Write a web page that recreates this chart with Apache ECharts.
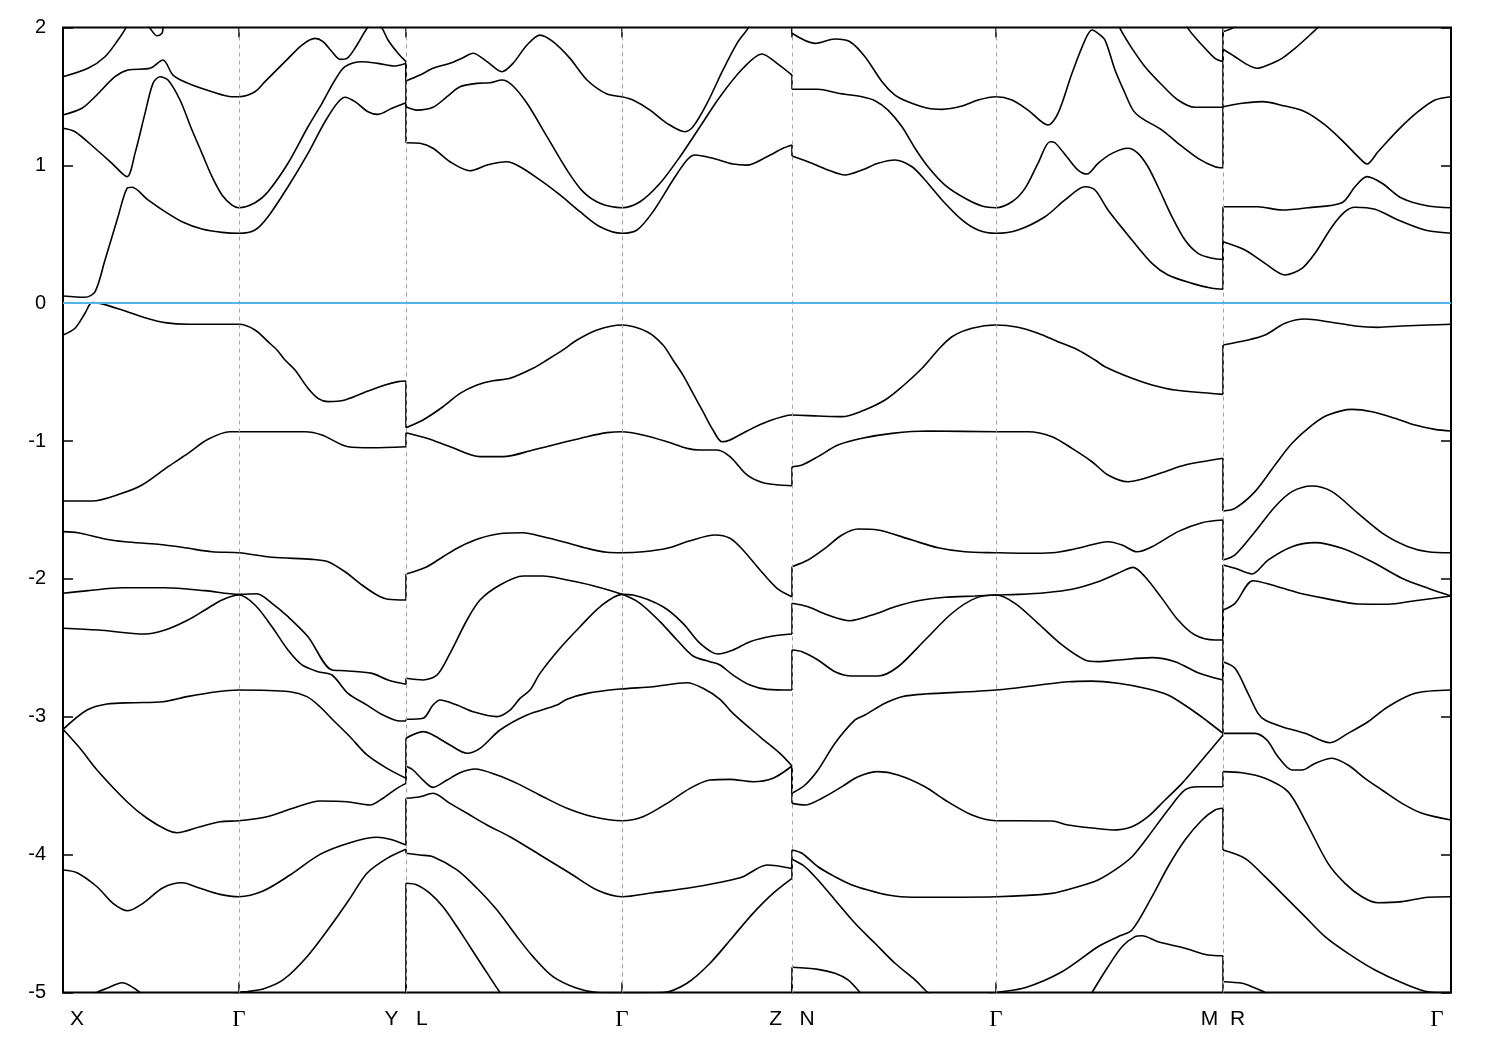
<!DOCTYPE html>
<html>
<head>
<meta charset="utf-8">
<script src="https://cdn.jsdelivr.net/npm/echarts@6/dist/echarts.min.js"></script>
<style>
html,body{margin:0;padding:0;background:#fff;}
#chart{width:1500px;height:1050px;}
</style>
</head>
<body>
<div id="chart"></div>
<script>
// k-path positions of the high-symmetry points and their labels
const kNodes = [0, 176, 343, 559, 729, 933, 1160, 1388];
const kLabelPos = [14, 176, 343, 559, 729, 933, 1160, 1374];
const kLabels = ['X', 'Γ', 'Y   L', 'Γ', 'Z   N', 'Γ', 'M  R', 'Γ'];
const yTicks = [-5, -4, -3, -2, -1, 0, 1, 2];

// bands: [k, E (eV)]
const bandT0 = [[0,1.643],[25,1.704],[42,1.788],[55,1.909],[62,1.987],[67,2.06]];
const bandDip = [[82,2.05],[87,1.995],[94,1.94],[99,1.958],[100,1.995],[102,2.05]];
const bandT1 = [[0,1.365],[19,1.414],[32,1.498],[52,1.643],[65,1.692],[87,1.704],[100,1.764],[110,1.655],[125,1.595],[149,1.534],[169,1.498],[176,1.498],[192,1.534],[202,1.607],[222,1.752],[239,1.873],[252,1.921],[260,1.897],[269,1.824],[277,1.769],[284,1.776],[294,1.873],[305,2.006],[311,2.04],[319,1.994],[325,1.909],[335,1.813],[343,1.752],
[343,1.612],[357,1.655],[370,1.704],[387,1.740],[400,1.781],[410,1.813],[424,1.752],[439,1.679],[450,1.740],[464,1.873],[477,1.945],[490,1.897],[507,1.776],[524,1.619],[544,1.517],[559,1.498],[570,1.474],[587,1.401],[604,1.305],[622,1.244],[630,1.280],[644,1.450],[660,1.692],[674,1.885],[685,1.994],[697,2.14],[729,2.35],
[729,1.958],[752,1.885],[772,1.917],[787,1.897],[802,1.788],[819,1.607],[832,1.510],[845,1.462],[865,1.414],[879,1.406],[899,1.430],[915,1.474],[933,1.498],[949,1.474],[965,1.401],[985,1.293],[995,1.377],[1009,1.668],[1022,1.909],[1029,1.982],[1035,1.958],[1042,1.909],[1052,1.692],[1062,1.523],[1070,1.401],[1079,1.341],[1099,1.256],[1115,1.160],[1135,1.051],[1152,0.990],[1160,0.983],
[1160,1.425],[1179,1.450],[1199,1.462],[1222,1.430],[1242,1.389],[1262,1.293],[1282,1.160],[1295,1.063],[1304,1.010],[1315,1.099],[1335,1.256],[1355,1.389],[1372,1.474],[1388,1.498]];
const bandT2 = [[0,1.269],[12,1.244],[32,1.124],[49,1.015],[64,0.918],[72,1.087],[82,1.377],[90,1.595],[97,1.643],[105,1.619],[117,1.474],[129,1.256],[139,1.087],[149,0.918],[159,0.785],[169,0.712],[176,0.693],[192,0.729],[205,0.809],[225,1.015],[245,1.280],[259,1.450],[272,1.619],[282,1.716],[299,1.752],[315,1.740],[332,1.721],[343,1.740],
[343,1.425],[354,1.401],[370,1.421],[384,1.498],[397,1.570],[414,1.595],[427,1.599],[439,1.619],[449,1.583],[464,1.450],[484,1.208],[504,0.966],[520,0.809],[537,0.725],[559,0.693],[577,0.736],[597,0.870],[617,1.063],[637,1.280],[657,1.498],[680,1.704],[699,1.808],[714,1.740],[729,1.655],
[729,1.552],[755,1.552],[775,1.523],[799,1.498],[812,1.469],[825,1.401],[839,1.280],[852,1.124],[865,0.990],[882,0.857],[902,0.761],[919,0.705],[933,0.693],[949,0.736],[962,0.833],[975,1.015],[987,1.171],[992,1.164],[1005,1.051],[1015,0.966],[1024,0.937],[1035,1.015],[1049,1.087],[1065,1.124],[1075,1.087],[1085,0.990],[1095,0.845],[1109,0.627],[1122,0.458],[1135,0.362],[1149,0.326],[1160,0.318],
[1160,0.700],[1195,0.700],[1219,0.676],[1245,0.693],[1279,0.729],[1292,0.845],[1304,0.918],[1319,0.870],[1339,0.761],[1365,0.705],[1388,0.693]];
const bandT3 = [[0,0.052],[22,0.043],[32,0.083],[42,0.313],[55,0.627],[64,0.833],[69,0.841],[85,0.749],[102,0.664],[119,0.591],[139,0.538],[159,0.514],[176,0.507],[192,0.531],[205,0.627],[225,0.845],[245,1.087],[265,1.353],[282,1.494],[292,1.462],[305,1.389],[315,1.370],[329,1.414],[343,1.454],
[343,1.164],[357,1.160],[370,1.124],[387,1.026],[407,0.961],[424,1.002],[444,1.026],[457,0.990],[477,0.894],[497,0.785],[517,0.664],[537,0.555],[559,0.507],[574,0.531],[590,0.664],[610,0.894],[624,1.039],[632,1.075],[650,1.051],[670,1.010],[684,1.002],[704,1.063],[720,1.124],[729,1.148],
[729,1.068],[749,1.015],[765,0.966],[782,0.930],[799,0.966],[815,1.015],[832,1.039],[849,0.990],[862,0.894],[879,0.749],[899,0.604],[915,0.531],[933,0.507],[955,0.531],[982,0.627],[1002,0.749],[1022,0.845],[1032,0.821],[1045,0.676],[1069,0.458],[1089,0.289],[1105,0.205],[1129,0.144],[1149,0.108],[1160,0.101],
[1160,0.446],[1182,0.386],[1202,0.289],[1222,0.205],[1239,0.253],[1252,0.362],[1269,0.555],[1282,0.664],[1292,0.696],[1312,0.681],[1335,0.604],[1362,0.531],[1388,0.507]];
const bandT4 = [[1052,2.09],[1057,1.994],[1069,1.849],[1082,1.716],[1099,1.583],[1115,1.474],[1132,1.421],[1160,1.421],[1160,1.842],[1172,1.788],[1182,1.740],[1194,1.704],[1205,1.728],[1219,1.776],[1232,1.849],[1245,1.933],[1254,1.994],[1262,2.07]];
const bandT5 = [[1120,2.09],[1125,1.994],[1139,1.873],[1152,1.776],[1160,1.752],[1160,1.969],[1172,2.006],[1182,2.09]];

const bandV1 = [[0,-0.231],[12,-0.182],[22,-0.073],[29,0.004],[37,-0.001],[59,-0.049],[82,-0.105],[102,-0.141],[125,-0.153],[176,-0.153],[192,-0.194],[205,-0.279],[214,-0.339],[222,-0.412],[232,-0.485],[245,-0.617],[255,-0.690],[265,-0.714],[282,-0.702],[305,-0.637],[322,-0.593],[335,-0.569],[343,-0.564],
[343,-0.903],[360,-0.847],[380,-0.751],[397,-0.654],[414,-0.593],[430,-0.562],[447,-0.545],[470,-0.472],[484,-0.412],[500,-0.339],[514,-0.267],[534,-0.194],[559,-0.158],[584,-0.207],[600,-0.303],[610,-0.412],[620,-0.521],[630,-0.654],[640,-0.787],[650,-0.920],[659,-1.005],[667,-0.992],[684,-0.927],[704,-0.860],[729,-0.811],
[755,-0.818],[779,-0.823],[799,-0.782],[822,-0.702],[839,-0.606],[859,-0.472],[875,-0.339],[889,-0.243],[909,-0.182],[933,-0.158],[955,-0.175],[975,-0.218],[995,-0.279],[1015,-0.339],[1032,-0.412],[1042,-0.461],[1069,-0.545],[1089,-0.593],[1112,-0.630],[1160,-0.661],
[1160,-0.303],[1185,-0.267],[1202,-0.231],[1222,-0.146],[1242,-0.115],[1265,-0.134],[1292,-0.165],[1315,-0.175],[1339,-0.165],[1365,-0.158],[1388,-0.153]];
const bandV2 = [[0,-1.435],[29,-1.435],[59,-1.379],[79,-1.319],[105,-1.186],[125,-1.089],[145,-0.987],[167,-0.932],[176,-0.932],[242,-0.932],[259,-0.956],[285,-1.041],[309,-1.048],[343,-1.041],
[343,-0.939],[364,-0.980],[387,-1.041],[417,-1.113],[440,-1.113],[470,-1.065],[497,-1.016],[524,-0.968],[544,-0.939],[559,-0.932],[580,-0.956],[604,-1.005],[624,-1.053],[637,-1.065],[654,-1.065],[667,-1.113],[684,-1.246],[700,-1.302],[717,-1.319],[729,-1.324],
[729,-1.186],[739,-1.174],[755,-1.113],[775,-1.029],[799,-0.980],[829,-0.944],[865,-0.927],[933,-0.932],[965,-0.932],[989,-0.968],[1009,-1.053],[1029,-1.150],[1045,-1.246],[1065,-1.295],[1082,-1.270],[1102,-1.222],[1122,-1.174],[1160,-1.125],
[1160,-1.507],[1172,-1.488],[1192,-1.367],[1212,-1.174],[1229,-1.016],[1249,-0.884],[1265,-0.811],[1289,-0.770],[1309,-0.787],[1332,-0.835],[1352,-0.884],[1372,-0.915],[1388,-0.927]];
const bandV3 = [[0,-1.657],[15,-1.665],[42,-1.710],[62,-1.730],[95,-1.749],[122,-1.774],[149,-1.803],[176,-1.810],[209,-1.843],[249,-1.858],[265,-1.875],[282,-1.948],[299,-2.044],[314,-2.117],[325,-2.148],[343,-2.153],
[343,-1.964],[364,-1.911],[380,-1.839],[397,-1.766],[417,-1.705],[440,-1.669],[460,-1.665],[480,-1.694],[500,-1.730],[524,-1.778],[544,-1.807],[559,-1.810],[580,-1.803],[604,-1.778],[627,-1.723],[652,-1.681],[667,-1.705],[680,-1.790],[697,-1.935],[714,-2.068],[729,-2.129],
[729,-1.911],[745,-1.863],[762,-1.778],[779,-1.681],[795,-1.638],[815,-1.645],[849,-1.718],[875,-1.774],[902,-1.803],[933,-1.810],[962,-1.814],[989,-1.810],[1015,-1.778],[1045,-1.730],[1059,-1.754],[1074,-1.803],[1089,-1.766],[1115,-1.657],[1139,-1.592],[1160,-1.573],
[1160,-1.863],[1172,-1.826],[1192,-1.657],[1212,-1.476],[1229,-1.367],[1249,-1.326],[1269,-1.367],[1295,-1.524],[1322,-1.681],[1345,-1.766],[1365,-1.803],[1388,-1.810]];
const bandV4 = [[0,-2.104],[25,-2.085],[59,-2.064],[102,-2.064],[142,-2.085],[176,-2.112],[194,-2.107],[209,-2.177],[225,-2.274],[245,-2.419],[269,-2.661],[282,-2.666],[309,-2.685],[325,-2.733],[343,-2.764],
[343,-2.721],[360,-2.733],[374,-2.697],[387,-2.540],[404,-2.298],[417,-2.153],[437,-2.044],[460,-1.979],[480,-1.979],[504,-2.008],[530,-2.049],[559,-2.112],[577,-2.177],[597,-2.310],[614,-2.443],[630,-2.559],[647,-2.600],[657,-2.624],[670,-2.697],[687,-2.770],[704,-2.801],[729,-2.806],
[729,-2.516],[739,-2.528],[755,-2.588],[772,-2.673],[789,-2.704],[815,-2.704],[835,-2.637],[862,-2.443],[889,-2.249],[912,-2.141],[933,-2.117],[952,-2.177],[975,-2.322],[999,-2.479],[1022,-2.588],[1035,-2.600],[1055,-2.588],[1089,-2.571],[1112,-2.600],[1135,-2.680],[1160,-2.733],
[1160,-2.225],[1172,-2.177],[1190,-2.013],[1209,-2.044],[1235,-2.100],[1262,-2.141],[1295,-2.182],[1325,-2.184],[1352,-2.158],[1388,-2.124]];
const bandV5 = [[0,-2.358],[35,-2.371],[82,-2.400],[102,-2.371],[125,-2.298],[142,-2.225],[159,-2.153],[176,-2.117],[192,-2.189],[209,-2.347],[225,-2.516],[239,-2.624],[255,-2.673],[269,-2.697],[285,-2.830],[304,-2.915],[320,-2.987],[337,-3.031],[343,-3.031],
[343,-3.018],[360,-3.011],[370,-2.915],[377,-2.878],[394,-2.915],[410,-2.963],[434,-2.999],[447,-2.951],[457,-2.866],[467,-2.806],[477,-2.685],[497,-2.503],[517,-2.347],[537,-2.202],[559,-2.112],[570,-2.117],[600,-2.202],[620,-2.322],[637,-2.467],[655,-2.545],[670,-2.516],[687,-2.455],[710,-2.414],[729,-2.400],
[729,-2.177],[745,-2.202],[765,-2.262],[787,-2.303],[809,-2.262],[832,-2.202],[855,-2.158],[882,-2.133],[912,-2.124],[933,-2.117],[955,-2.112],[982,-2.100],[1009,-2.075],[1035,-2.020],[1055,-1.959],[1070,-1.916],[1082,-1.984],[1099,-2.141],[1115,-2.298],[1132,-2.407],[1152,-2.443],[1160,-2.443],
[1160,-1.899],[1172,-1.923],[1189,-1.964],[1205,-1.863],[1229,-1.766],[1252,-1.737],[1279,-1.778],[1309,-1.875],[1339,-1.995],[1365,-2.068],[1388,-2.124]];
const bandV6 = [[0,-3.091],[24,-2.951],[44,-2.907],[70,-2.898],[100,-2.891],[124,-2.854],[154,-2.818],[176,-2.806],[227,-2.818],[244,-2.854],[257,-2.927],[270,-3.023],[287,-3.145],[304,-3.277],[324,-3.374],[343,-3.446],
[343,-3.156],[360,-3.108],[370,-3.132],[387,-3.205],[404,-3.265],[417,-3.229],[437,-3.096],[464,-2.987],[494,-2.915],[504,-2.873],[524,-2.830],[557,-2.799],[590,-2.782],[624,-2.753],[640,-2.793],[657,-2.873],[670,-2.975],[697,-3.145],[717,-3.265],[729,-3.357],
[729,-3.555],[742,-3.495],[755,-3.386],[772,-3.192],[792,-3.023],[802,-2.987],[822,-2.902],[839,-2.854],[862,-2.835],[933,-2.806],[1005,-2.746],[1029,-2.741],[1055,-2.757],[1082,-2.793],[1105,-2.842],[1129,-2.951],[1145,-3.036],[1160,-3.120],
[1160,-2.600],[1172,-2.648],[1185,-2.830],[1195,-2.975],[1202,-3.023],[1219,-3.072],[1242,-3.120],[1267,-3.188],[1285,-3.120],[1305,-3.036],[1325,-2.927],[1352,-2.830],[1388,-2.806]];
const bandV7 = [[0,-3.091],[17,-3.229],[34,-3.386],[64,-3.616],[84,-3.736],[104,-3.821],[114,-3.841],[137,-3.797],[157,-3.761],[176,-3.754],[204,-3.725],[230,-3.664],[257,-3.611],[284,-3.616],[307,-3.640],[320,-3.591],[334,-3.519],[343,-3.483],
[343,-3.357],[350,-3.386],[360,-3.459],[370,-3.512],[384,-3.459],[397,-3.406],[412,-3.379],[434,-3.422],[454,-3.483],[480,-3.580],[504,-3.664],[530,-3.725],[559,-3.754],[580,-3.725],[604,-3.628],[627,-3.519],[647,-3.459],[667,-3.454],[690,-3.471],[710,-3.446],[729,-3.357],
[729,-3.628],[742,-3.640],[759,-3.591],[779,-3.507],[795,-3.435],[815,-3.398],[835,-3.422],[862,-3.507],[882,-3.604],[909,-3.713],[933,-3.754],[955,-3.754],[989,-3.756],[1005,-3.785],[1032,-3.809],[1049,-3.821],[1069,-3.797],[1085,-3.725],[1102,-3.604],[1119,-3.483],[1139,-3.314],[1160,-3.132],
[1160,-3.120],[1192,-3.120],[1204,-3.169],[1215,-3.290],[1229,-3.386],[1239,-3.386],[1252,-3.338],[1269,-3.301],[1285,-3.350],[1302,-3.446],[1319,-3.531],[1339,-3.628],[1359,-3.700],[1388,-3.749]];
const bandV8 = [[0,-4.111],[14,-4.131],[34,-4.233],[50,-4.353],[65,-4.407],[80,-4.353],[100,-4.240],[119,-4.204],[137,-4.244],[157,-4.288],[176,-4.305],[200,-4.264],[227,-4.148],[257,-3.998],[287,-3.913],[314,-3.874],[327,-3.889],[343,-3.930],
[343,-3.591],[357,-3.580],[370,-3.555],[387,-3.628],[404,-3.700],[424,-3.785],[447,-3.870],[480,-4.015],[507,-4.135],[534,-4.257],[559,-4.305],[590,-4.276],[624,-4.244],[660,-4.196],[680,-4.160],[704,-4.075],[729,-4.100],
[729,-3.966],[739,-3.990],[755,-4.088],[772,-4.160],[789,-4.220],[805,-4.257],[825,-4.293],[849,-4.309],[933,-4.305],[989,-4.281],[1015,-4.233],[1035,-4.184],[1052,-4.111],[1069,-4.015],[1085,-3.870],[1105,-3.676],[1122,-3.531],[1135,-3.507],[1160,-3.507],
[1160,-3.398],[1179,-3.406],[1202,-3.446],[1225,-3.543],[1242,-3.749],[1265,-4.063],[1282,-4.208],[1299,-4.305],[1315,-4.349],[1339,-4.341],[1365,-4.309],[1388,-4.305]];
const bandV9 = [[160,-5.05],[176,-5.0],[184,-4.994],[200,-4.975],[220,-4.909],[244,-4.740],[267,-4.523],[287,-4.317],[304,-4.135],[324,-4.027],[343,-3.961],
[343,-3.990],[357,-4.003],[370,-4.015],[394,-4.111],[414,-4.244],[434,-4.402],[454,-4.595],[470,-4.740],[490,-4.885],[514,-4.970],[534,-5.0],[559,-5.003],[600,-5.0],[624,-4.933],[647,-4.788],[670,-4.595],[690,-4.426],[710,-4.281],[729,-4.172],
[729,-4.034],[742,-4.088],[755,-4.184],[772,-4.329],[792,-4.498],[812,-4.643],[832,-4.788],[852,-4.909],[865,-5.001],[882,-5.09]];
const bandV10 = [[343,-5.3],[343,-4.208],[354,-4.220],[367,-4.281],[380,-4.378],[394,-4.523],[407,-4.668],[420,-4.813],[437,-5.0],[447,-5.09]];
const bandV11 = [[729,-5.3],[729,-4.817],[755,-4.832],[772,-4.861],[785,-4.909],[797,-5.0],[807,-5.09]];
const bandV12 = [[915,-5.03],[933,-5.0],[962,-4.965],[999,-4.849],[1035,-4.668],[1055,-4.595],[1069,-4.547],[1089,-4.305],[1105,-4.088],[1122,-3.894],[1139,-3.749],[1152,-3.676],[1160,-3.664],
[1160,-3.966],[1182,-4.027],[1202,-4.160],[1222,-4.305],[1242,-4.450],[1262,-4.595],[1285,-4.716],[1312,-4.837],[1339,-4.929],[1365,-4.994],[1388,-5.001]];
const bandV13 = [[1022,-5.09],[1029,-5.0],[1045,-4.813],[1059,-4.668],[1072,-4.595],[1079,-4.588],[1095,-4.632],[1122,-4.679],[1145,-4.728],[1160,-4.733],
[1160,-4.922],[1179,-4.933],[1189,-4.958],[1202,-5.0],[1217,-5.09]];
const bandV14 = [[22,-5.09],[34,-5.0],[44,-4.970],[59,-4.929],[77,-5.0],[87,-5.09]];

const bands = [bandT0, bandDip, bandT1, bandT2, bandT3, bandT4, bandT5,
  bandV1, bandV2, bandV3, bandV4, bandV5, bandV6, bandV7, bandV8, bandV9, bandV10, bandV11, bandV12, bandV13, bandV14];

// split each band at the zone-boundary jumps: smooth pieces + straight vertical connectors
function splitBand(d) {
  const pieces = [], jumps = [];
  let cur = [d[0]];
  for (let i = 1; i < d.length; i++) {
    if (d[i][0] === d[i - 1][0]) {
      jumps.push([d[i - 1], d[i]]);
      if (cur.length > 1) pieces.push(cur);
      cur = [d[i]];
    } else {
      cur.push(d[i]);
    }
  }
  if (cur.length > 1) pieces.push(cur);
  return {pieces: pieces, jumps: jumps};
}

const chart = echarts.init(document.getElementById('chart'), null, {renderer: 'canvas'});

const lineStyle = {color: '#000', width: 1.6};
const bandSeries = [];
bands.forEach(function (d) {
  const s = splitBand(d);
  s.pieces.forEach(function (p) {
    bandSeries.push({type: 'line', data: p, showSymbol: false, symbol: 'none', clip: true, silent: true,
      smooth: 0.3, lineStyle: lineStyle, z: 3});
  });
  s.jumps.forEach(function (j) {
    bandSeries.push({type: 'line', data: j, showSymbol: false, symbol: 'none', clip: true, silent: true,
      smooth: false, lineStyle: lineStyle, z: 3});
  });
});

const refSeries = {
  type: 'line', data: [], silent: true, z: 1,
  markLine: {
    silent: true, symbol: ['none', 'none'], label: {show: false}, animation: false,
    data: kNodes.slice(1, -1).map(function (k) {
      return {xAxis: k, lineStyle: {color: '#a0a0a0', type: [4, 4], width: 1}};
    }).concat([{yAxis: 0, lineStyle: {color: '#56b4e9', width: 1.8, type: 'solid'}}])
  }
};

function xLabel(v) {
  let best = 0, bd = Infinity;
  for (let i = 0; i < kLabelPos.length; i++) {
    const d = Math.abs(kLabelPos[i] - v);
    if (d < bd) { bd = d; best = i; }
  }
  const t = kLabels[best];
  return t === 'Γ' ? '{g|Γ}' : t;
}

const tickStyle = {color: '#000', width: 1.5};

chart.setOption({
  animation: false,
  backgroundColor: '#fff',
  grid: {left: 63, top: 27.5, width: 1388, height: 965, show: true, borderColor: '#000', borderWidth: 2, backgroundColor: 'transparent'},
  xAxis: [
    {
      type: 'value', min: 0, max: 1388, position: 'bottom',
      axisLine: {show: false, onZero: false}, splitLine: {show: false},
      axisTick: {show: true, inside: true, length: 10, customValues: kNodes, lineStyle: tickStyle},
      axisLabel: {
        show: true, customValues: kLabelPos, formatter: xLabel, margin: 16,
        fontSize: 21, lineHeight: 22, color: '#000', fontFamily: 'Liberation Sans',
        rich: {g: {fontFamily: 'Liberation Serif', fontSize: 23, color: '#000', lineHeight: 22}}
      }
    },
    {
      type: 'value', min: 0, max: 1388, position: 'top',
      axisLine: {show: false, onZero: false}, splitLine: {show: false},
      axisTick: {show: true, inside: true, length: 10, customValues: kNodes, lineStyle: tickStyle},
      axisLabel: {show: false}
    }
  ],
  yAxis: [
    {
      type: 'value', min: -5, max: 2, interval: 1, position: 'left',
      axisLine: {show: false, onZero: false}, splitLine: {show: false},
      axisTick: {show: true, inside: true, length: 10, customValues: yTicks, lineStyle: tickStyle},
      axisLabel: {show: true, customValues: yTicks, fontSize: 20, margin: 17, color: '#000', fontFamily: 'Liberation Sans'}
    },
    {
      type: 'value', min: -5, max: 2, interval: 1, position: 'right',
      axisLine: {show: false, onZero: false}, splitLine: {show: false},
      axisTick: {show: true, inside: true, length: 10, customValues: yTicks, lineStyle: tickStyle},
      axisLabel: {show: false}
    }
  ],
  series: [refSeries].concat(bandSeries)
});
</script>
</body>
</html>
